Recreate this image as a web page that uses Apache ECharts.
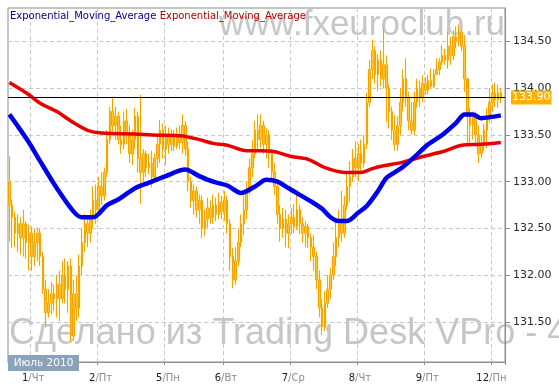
<!DOCTYPE html>
<html><head><meta charset="utf-8">
<script src="https://cdn.jsdelivr.net/npm/echarts@6/dist/echarts.min.js"></script>
<style>html,body{margin:0;padding:0;background:#fff}#c{width:559px;height:392px}</style>
</head><body><div id="c"></div>
<script>
// ---- data ----
const dayNumbers = ['30', '1', '2', '5', '6', '7', '8', '9', '12'];
const dayNames = ['Ср', 'Чт', 'Пт', 'Пн', 'Вт', 'Ср', 'Чт', 'Пт', 'Пн'];
const dayBarCounts = [8, 24, 24, 21, 24, 24, 24, 24, 5];
const yTickValues = [131.5, 132, 132.5, 133, 133.5, 134, 134.5];
const yMin = 131.072, yMax = 134.858;
const lastPrice = 133.90;
const monthLabel = 'Июль 2010';
const legendNames = ['Exponential_Moving_Average', 'Exponential_Moving_Average'];

// hourly candles: [open, close, low, high]
const candles = [
[133.00,132.75,132.36,133.27],[132.75,132.62,132.29,132.81],[132.62,132.45,132.30,132.68],[132.45,132.55,132.25,132.65],
[132.55,132.40,132.22,132.62],[132.40,132.55,132.20,132.70],[132.55,132.35,132.18,132.58],[132.35,132.45,132.05,132.54],
[132.45,132.20,132.05,132.52],[132.20,132.35,132.10,132.50],[132.35,132.45,132.15,132.51],[132.45,132.20,132.10,132.50],
[132.20,131.85,131.80,132.25],[131.85,131.60,131.44,131.95],[131.60,131.70,131.55,131.85],[131.70,131.80,131.58,131.93],
[131.80,131.75,131.62,131.90],[131.75,131.90,131.55,132.00],[131.90,131.75,131.51,132.05],[131.75,132.00,131.70,132.15],
[132.00,131.85,131.70,132.18],[131.85,132.10,131.60,132.15],[132.10,131.35,131.29,132.18],[131.35,131.80,131.30,131.95],
[131.80,131.65,131.51,132.00],[131.65,132.10,131.55,132.22],[132.10,132.35,132.00,132.50],[132.35,132.55,132.25,132.65],
[132.55,132.45,132.30,132.62],[132.45,132.62,132.35,132.70],[132.62,132.80,132.50,132.95],[132.80,132.70,132.55,132.97],
[132.70,132.95,132.65,133.05],[132.95,132.85,132.75,133.10],[132.85,133.10,132.80,133.15],[133.10,133.45,133.05,133.55],
[133.45,133.75,133.40,133.80],[133.75,133.60,133.50,133.91],[133.60,133.70,133.45,133.80],[133.70,133.45,133.40,133.75],
[133.45,133.40,133.30,133.60],[133.40,133.65,133.35,133.75],[133.65,133.50,133.40,133.78],[133.50,133.30,133.20,133.60],
[133.30,133.45,133.18,133.55],[133.45,133.70,133.35,133.79],[133.70,133.25,133.10,133.75],[133.25,133.10,132.76,133.93],
[133.10,133.30,133.00,133.35],[133.30,133.15,133.05,133.33],[133.15,133.20,133.08,133.30],[133.20,133.05,132.94,133.33],
[133.05,133.25,133.00,133.30],[133.25,133.40,133.15,133.50],[133.40,133.55,133.20,133.66],[133.55,133.35,133.25,133.62],
[133.35,133.50,133.18,133.60],[133.50,133.40,133.30,133.58],[133.40,133.48,133.33,133.56],[133.48,133.38,133.33,133.55],
[133.38,133.50,133.35,133.58],[133.50,133.42,133.35,133.60],[133.42,133.60,133.30,133.72],[133.60,133.35,133.28,133.65],
[133.35,133.00,132.90,133.43],[133.00,132.80,132.72,133.05],[132.80,132.90,132.65,132.97],[132.90,132.70,132.62,132.95],
[132.70,132.80,132.55,132.86],[132.80,132.50,132.40,132.85],[132.50,132.60,132.42,132.70],[132.60,132.72,132.51,132.83],
[132.72,132.62,132.55,132.80],[132.62,132.75,132.55,132.86],[132.75,132.65,132.58,132.83],[132.65,132.78,132.60,132.88],
[132.78,132.68,132.60,132.85],[132.68,132.80,132.58,132.90],[132.80,132.55,132.45,132.85],[132.55,132.20,132.05,132.60],
[132.20,131.95,131.86,132.29],[131.95,132.15,131.90,132.30],[132.15,132.35,132.10,132.50],[132.35,132.55,132.30,132.65],
[132.55,132.70,132.43,132.85],[132.70,132.90,132.60,133.00],[132.90,133.15,132.86,133.25],[133.15,133.30,133.05,133.45],
[133.30,133.55,133.25,133.65],[133.55,133.45,133.35,133.72],[133.45,133.60,133.36,133.72],[133.60,133.40,133.30,133.65],
[133.40,133.50,133.25,133.57],[133.50,133.30,133.15,133.55],[133.30,133.10,133.00,133.35],[133.10,132.95,132.86,133.20],
[132.95,132.65,132.55,133.00],[132.65,132.50,132.36,132.75],[132.50,132.60,132.40,132.72],[132.60,132.45,132.30,132.70],
[132.45,132.55,132.29,132.65],[132.55,132.62,132.44,132.72],[132.62,132.52,132.45,132.76],[132.52,132.70,132.48,132.86],
[132.70,132.55,132.44,132.75],[132.55,132.45,132.35,132.62],[132.45,132.52,132.30,132.58],[132.52,132.40,132.29,132.55],
[132.40,132.30,132.15,132.45],[132.30,132.20,132.05,132.43],[132.20,131.95,131.85,132.25],[131.95,131.65,131.55,132.05],
[131.65,131.45,131.36,131.75],[131.45,131.70,131.40,131.83],[131.70,131.85,131.65,132.00],[131.85,132.00,131.75,132.08],
[132.00,132.20,131.95,132.35],[132.20,132.40,132.10,132.58],[132.40,132.55,132.30,132.70],[132.55,132.45,132.36,132.90],
[132.45,132.75,132.40,132.85],[132.75,132.95,132.70,133.10],[132.95,133.05,132.79,133.22],[133.05,133.25,133.00,133.35],
[133.25,133.15,133.05,133.43],[133.15,133.30,133.00,133.40],[133.30,133.20,133.11,133.45],[133.20,133.40,133.15,133.50],
[133.40,133.85,133.35,133.95],[133.85,134.20,133.80,134.30],[134.20,134.40,134.10,134.52],[134.40,134.15,134.05,134.45],
[134.15,134.30,133.97,134.36],[134.30,134.10,134.02,134.40],[134.10,134.25,134.00,134.64],[134.25,134.00,133.64,134.35],
[134.00,133.75,133.57,134.04],[133.75,133.55,133.45,133.80],[133.55,133.40,133.33,133.71],[133.40,133.60,133.33,133.70],
[133.60,133.85,133.50,134.00],[133.85,134.10,133.75,134.20],[134.10,133.90,133.80,134.32],[133.90,133.65,133.55,133.96],
[133.65,133.55,133.50,133.85],[133.55,133.85,133.50,133.96],[133.85,134.00,133.79,134.10],[134.00,133.90,133.80,134.08],
[133.90,134.05,133.85,134.14],[134.05,133.98,133.93,134.12],[133.98,134.08,133.93,134.14],[134.08,134.02,134.00,134.21],
[134.02,134.15,134.00,134.20],[134.15,134.20,134.14,134.32],[134.20,134.28,134.14,134.32],[134.28,134.35,134.25,134.46],
[134.35,134.30,134.25,134.42],[134.30,134.45,134.21,134.61],[134.45,134.35,134.25,134.55],[134.35,134.55,134.30,134.62],
[134.55,134.50,134.43,134.66],[134.50,134.60,134.45,134.68],[134.60,134.45,134.40,134.64],[134.45,134.10,133.96,134.57],
[134.10,133.70,133.40,134.00],[133.70,133.60,133.40,133.79],[133.60,133.70,133.45,133.75],[133.70,133.50,133.40,133.75],
[133.50,133.30,133.20,133.60],[133.30,133.40,133.25,133.50],[133.40,133.55,133.33,133.62],[133.55,133.70,133.36,133.79],
[133.70,133.85,133.64,134.00],[133.85,133.95,133.75,134.04],[133.95,133.88,133.80,134.06],[133.88,133.95,133.79,134.04],
[133.95,133.90,133.84,134.00]
];

// fast EMA (blue): bar index / value
const emaBlueIdx = [0,7,11,17,23,26,30,35,39,45,50,56,63,68,73,78,83,88,92,96,100,104,108,112,115,118,121,125,128,132,135,138,141,146,150,155,160,163,166,169,172,176];
const emaBlueVal = [133.72,133.42,133.22,132.93,132.68,132.62,132.62,132.75,132.81,132.93,132.99,133.06,133.13,133.06,133.00,132.96,132.88,132.95,133.02,133.00,132.93,132.86,132.79,132.71,132.62,132.58,132.58,132.67,132.74,132.90,133.04,133.10,133.16,133.29,133.40,133.50,133.63,133.72,133.72,133.68,133.69,133.71];
// slow EMA (red)
const emaRedIdx = [0,7,11,17,23,28,33,45,51,62,68,73,78,85,90,95,101,107,113,120,126,130,134,141,148,155,162,169,176];
const emaRedVal = [134.06,133.93,133.84,133.75,133.63,133.55,133.52,133.51,133.50,133.49,133.45,133.41,133.39,133.33,133.33,133.32,133.27,133.24,133.15,133.10,133.10,133.14,133.17,133.21,133.27,133.32,133.39,133.40,133.42];

// ---- build ----
const categories = [];
const dayStartMap = {};
dayBarCounts.forEach((cnt, d) => {
  if (d > 0) dayStartMap[categories.length] = d;
  for (let h = 0; h < cnt; h++) categories.push(dayNumbers[d] + ' ' + (24 - cnt + h) + ':00');
});
const isDayStart = (i) => dayStartMap[i] !== undefined;
const pair = (idx, val) => idx.map((x, k) => [x, val[k]]);

const FONT = 'DejaVu Sans';
const gridLine = { show: true, lineStyle: { color: '#c8c8c8', type: [4, 3], width: 1 } };

const chart = echarts.init(document.getElementById('c'), null, { renderer: 'canvas' });
chart.setOption({
  animation: false,
  backgroundColor: '#fff',
  grid: { left: 8, right: 54, top: 8, bottom: 30, show: true, borderColor: '#8c8c8c', borderWidth: 1,
          containLabel: false, outerBoundsMode: 'none' },
  graphic: [
    { type: 'text', z: -10, silent: true, style: { text: 'www.fxeuroclub.ru', x: 505, y: 25, align: 'right', verticalAlign: 'middle',
      font: '35px "Liberation Sans"', fill: '#c6c6c6' } },
    { type: 'text', z: -10, silent: true, style: { text: 'Сделано из Trading Desk VPro - 4', x: 9, y: 334, align: 'left', verticalAlign: 'middle',
      font: '36px "Liberation Sans"', fill: '#c6c6c6' } },
    { type: 'text', z: 50, silent: true, style: { text: '{b|' + legendNames[0] + '} {r|' + legendNames[1] + '}', x: 10, y: 10,
      rich: { b: { fill: '#00008b', font: '10px "' + FONT + '"' }, r: { fill: '#b00000', font: '10px "' + FONT + '"' } } } },
    { type: 'rect', z: 50, silent: true, shape: { x: 8, y: 355, width: 71, height: 16 }, style: { fill: '#8aa3ba' } },
    { type: 'text', z: 51, silent: true, style: { text: monthLabel, x: 43.5, y: 363.5, align: 'center', verticalAlign: 'middle',
      font: '10.5px "' + FONT + '"', fill: '#fff' } }
  ],
  xAxis: [
    { type: 'category', data: categories, boundaryGap: true, position: 'bottom',
      axisLine: { show: true, lineStyle: { color: '#8c8c8c' } },
      axisTick: { show: true, interval: (i) => isDayStart(i), length: 3, lineStyle: { color: '#8c8c8c' } },
      splitLine: Object.assign({ interval: (i) => isDayStart(i) }, gridLine),
      axisLabel: { interval: (i) => isDayStart(i), align: 'right', margin: 11, hideOverlap: false,
        formatter: (v, i) => '{d|' + dayNumbers[dayStartMap[i]] + '}{s|/}',
        rich: { d: { color: '#1a1a1a', fontFamily: FONT, fontSize: 10 }, s: { color: '#8a8a8a', fontFamily: FONT, fontSize: 10 } } } },
    { type: 'category', data: categories, boundaryGap: true, position: 'bottom', offset: 0,
      axisLine: { show: false }, axisTick: { show: false }, splitLine: { show: false },
      axisLabel: { interval: (i) => isDayStart(i), align: 'left', margin: 11, hideOverlap: false,
        formatter: (v, i) => '{w|' + dayNames[dayStartMap[i]] + '}',
        rich: { w: { color: '#8a8a8a', fontFamily: FONT, fontSize: 10 } } } }
  ],
  yAxis: {
    type: 'value', position: 'right', min: yMin, max: yMax, scale: true,
    axisLine: { show: true, lineStyle: { color: '#8c8c8c' } },
    axisTick: { show: true, length: 5, customValues: yTickValues, lineStyle: { color: '#8c8c8c' } },
    splitLine: gridLine,
    axisLabel: { customValues: yTickValues, margin: 8, color: '#2a2a2a', fontFamily: FONT, fontSize: 11,
      formatter: (v) => v.toFixed(2) }
  },
  series: [
    { type: 'candlestick', name: 'price', data: candles.map(c => [c[0], c[1], c[2], c[3]]), barWidth: 2, z: 3,
      itemStyle: { color: '#ffaa00', color0: '#ffaa00', borderColor: '#f5a300', borderColor0: '#f5a300', borderWidth: 1,
        shadowBlur: 2, shadowColor: 'rgba(255,235,130,0.9)' },
      markLine: { silent: true, symbol: 'none', animation: false,
        lineStyle: { color: '#000', width: 1, type: 'solid' },
        label: { show: true, position: 'end', distance: 6, formatter: (p) => p.value.toFixed(2), color: '#fff',
          backgroundColor: '#ffb000', padding: [2, 1, 1, 1], fontFamily: FONT, fontSize: 11 },
        data: [{ yAxis: lastPrice }] } },
    { type: 'line', name: legendNames[1], data: pair(emaRedIdx, emaRedVal), smooth: 0.3, symbol: 'none', z: 4,
      lineStyle: { color: '#e80000', width: 3.5 } },
    { type: 'line', name: legendNames[0], data: pair(emaBlueIdx, emaBlueVal), smooth: 0.3, symbol: 'none', z: 5,
      lineStyle: { color: '#0000e8', width: 4.5 } }
  ]
});
</script></body></html>
